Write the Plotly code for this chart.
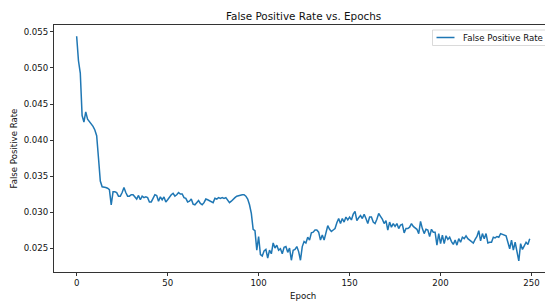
import plotly.graph_objects as go

epochs = list(range(250))
fpr = [
    0.0544, 0.0510, 0.0493, 0.0434, 0.0425, 0.0439, 0.0429, 0.0426, 0.0423, 0.0419,
    0.0414, 0.0406, 0.0375, 0.0343, 0.0335, 0.0335, 0.0334, 0.0333, 0.0331, 0.0310,
    0.0328, 0.0328, 0.0327, 0.0322, 0.0322, 0.0327, 0.0334, 0.0327, 0.0322, 0.0322,
    0.0324, 0.0324, 0.0321, 0.0318, 0.0323, 0.0317, 0.0322, 0.0320, 0.0321, 0.0320,
    0.0314, 0.0314, 0.0319, 0.0324, 0.0323, 0.0315, 0.0321, 0.0317, 0.0321, 0.0314,
    0.0317, 0.0321, 0.0324, 0.0326, 0.0322, 0.0324, 0.0327, 0.0325, 0.0325, 0.0320,
    0.0319, 0.0314, 0.0315, 0.0318, 0.0311, 0.0310, 0.0313, 0.0316, 0.0312, 0.0310,
    0.0313, 0.0318, 0.0317, 0.0316, 0.0315, 0.0313, 0.0319, 0.0318, 0.0320, 0.0319,
    0.0320, 0.0319, 0.0320, 0.0317, 0.0313, 0.0315, 0.0318, 0.0320, 0.0322, 0.0323,
    0.0324, 0.0324, 0.0324, 0.0322, 0.0318, 0.0310, 0.0298, 0.0276, 0.0274, 0.0247,
    0.0266, 0.0241, 0.0239, 0.0246, 0.0248, 0.0236, 0.0247, 0.0242, 0.0257, 0.0250,
    0.0254, 0.0247, 0.0249, 0.0242, 0.0251, 0.0252, 0.0244, 0.0250, 0.0233, 0.0247,
    0.0248, 0.0252, 0.0245, 0.0233, 0.0252, 0.0259, 0.0257, 0.0265, 0.0261, 0.0271,
    0.0272, 0.0275, 0.0275, 0.0272, 0.0261, 0.0268, 0.0261, 0.0270, 0.0281, 0.0276,
    0.0273, 0.0275, 0.0277, 0.0285, 0.0291, 0.0284, 0.0291, 0.0286, 0.0293, 0.0289,
    0.0293, 0.0289, 0.0297, 0.0301, 0.0288, 0.0292, 0.0295, 0.0291, 0.0297, 0.0291,
    0.0284, 0.0293, 0.0293, 0.0286, 0.0284, 0.0290, 0.0298, 0.0294, 0.0290, 0.0284,
    0.0288, 0.0275, 0.0286, 0.0279, 0.0284, 0.0280, 0.0284, 0.0277, 0.0282, 0.0283,
    0.0271, 0.0277, 0.0277, 0.0279, 0.0284, 0.0280, 0.0278, 0.0276, 0.0270, 0.0287,
    0.0277, 0.0270, 0.0276, 0.0275, 0.0266, 0.0276, 0.0272, 0.0272, 0.0254, 0.0270,
    0.0256, 0.0268, 0.0256, 0.0267, 0.0262, 0.0265, 0.0259, 0.0255, 0.0261, 0.0254,
    0.0263, 0.0258, 0.0265, 0.0263, 0.0267, 0.0263, 0.0261, 0.0259, 0.0257, 0.0262,
    0.0266, 0.0274, 0.0260, 0.0270, 0.0263, 0.0270, 0.0257, 0.0258, 0.0258, 0.0265,
    0.0264, 0.0266, 0.0265, 0.0270, 0.0269, 0.0268, 0.0267, 0.0258, 0.0249, 0.0261,
    0.0247, 0.0258, 0.0242, 0.0232, 0.0256, 0.0248, 0.0253, 0.0258, 0.0255, 0.0263,
]

x_ticks = [0, 50, 100, 150, 200, 250]
y_ticks = [0.025, 0.030, 0.035, 0.040, 0.045, 0.050, 0.055]
y_tick_labels = ["0.025", "0.030", "0.035", "0.040", "0.045", "0.050", "0.055"]

title_text = "False Positive Rate vs. Epochs"
x_label = "Epoch"
y_label = "False Positive Rate"
series_name = "False Positive Rate"

LINE_COLOR = "#1f77b4"
FONT = "DejaVu Sans"
TXT = "#111111"
FS = 8.6
FS_TITLE = 10.4

W, H = 545, 301
L, R, T, B = 54, 0, 25, 29
pw = W - L - R
ph = H - T - B

def px(xpix):
    return (xpix - L) / pw

def py(ypix):
    return (H - B - ypix) / ph

fig = go.Figure()
fig.add_trace(go.Scatter(
    x=epochs, y=fpr, mode="lines", name=series_name,
    line=dict(color=LINE_COLOR, width=1.5), showlegend=False,
))

axis_common = dict(
    showgrid=False, zeroline=False, showline=True, linecolor="#333", linewidth=1,
    ticks="outside", ticklen=3, tickwidth=0.9, tickcolor="#333",
    tickfont=dict(family=FONT, size=FS, color=TXT),
)

fig.update_xaxes(range=[-12.45, 257.4], tickvals=x_ticks, mirror=True, **axis_common)
fig.update_yaxes(range=[0.02167, 0.05597], tickvals=y_ticks, ticktext=y_tick_labels,
                 mirror=False, **axis_common)

# legend (manual, matplotlib style)
fig.add_shape(type="rect", xref="paper", yref="paper",
              x0=px(432.5), x1=px(560), y0=py(45.5), y1=py(30),
              line=dict(color="#d0d0d0", width=0.8), fillcolor="rgba(255,255,255,0.8)")
fig.add_shape(type="line", xref="paper", yref="paper",
              x0=px(436.5), x1=px(454.5), y0=py(37.5), y1=py(37.5),
              line=dict(color=LINE_COLOR, width=1.5))

annotations = [
    dict(text=series_name, xref="paper", yref="paper", x=px(460.5), y=py(37.8),
         xanchor="left", yanchor="middle", showarrow=False,
         font=dict(family=FONT, size=FS, color=TXT)),
    dict(text=title_text, xref="paper", yref="paper", x=px(303), y=py(16),
         xanchor="center", yanchor="middle", showarrow=False,
         font=dict(family=FONT, size=FS_TITLE, color=TXT)),
    dict(text=x_label, xref="paper", yref="paper", x=px(303), y=py(295.5),
         xanchor="center", yanchor="middle", showarrow=False,
         font=dict(family=FONT, size=FS, color=TXT)),
    dict(text=y_label, xref="paper", yref="paper", x=px(13), y=py(148.5),
         xanchor="center", yanchor="middle", showarrow=False, textangle=-90,
         font=dict(family=FONT, size=FS, color=TXT)),
]

fig.update_layout(
    width=W, height=H, autosize=False,
    margin=dict(l=L, r=R, t=T, b=B, pad=0),
    paper_bgcolor="white", plot_bgcolor="white",
    font=dict(family=FONT, size=FS, color=TXT),
    annotations=annotations,
)

fig.write_html("out.html", config={"displayModeBar": False})

# remove default page margin so the figure sits at the window's top-left corner
with open("out.html", "r", encoding="utf-8") as f:
    html = f.read()
html = html.replace("<head>", "<head><style>html,body{margin:0;padding:0;overflow:hidden;}</style>", 1)
with open("out.html", "w", encoding="utf-8") as f:
    f.write(html)
